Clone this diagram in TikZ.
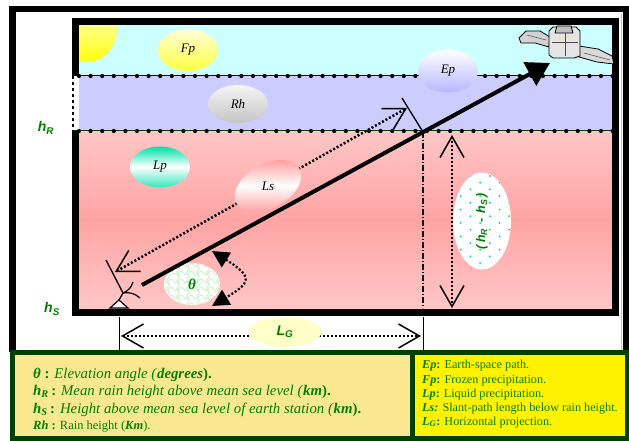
\documentclass[tikz,border=0pt]{standalone}
\usepackage{fontspec}
\setmainfont{Liberation Serif}
\newfontfamily\labelsans{Liberation Sans}
\usetikzlibrary{arrows.meta,shapes.geometric,decorations.pathmorphing}

\definecolor{skyband}{RGB}{204,255,255}
\definecolor{lavband}{RGB}{204,204,255}
\definecolor{rainlight}{RGB}{255,198,198}
\definecolor{raindeep}{RGB}{255,164,164}
\definecolor{legendfill}{RGB}{250,232,145}
\definecolor{legendrule}{RGB}{0,64,0}
\definecolor{labelgreen}{RGB}{0,128,0}
\definecolor{tealdot}{RGB}{0,200,150}
\definecolor{lpteal}{RGB}{0,225,170}
\definecolor{wavegreen}{RGB}{200,240,200}
\definecolor{lgfill}{RGB}{255,255,200}
\definecolor{lsedge}{RGB}{255,150,150}

\tikzset{
  bubble/.style={ellipse, inner sep=0pt, font=\fontsize{13}{15}\selectfont\itshape},
  levelline/.style={line width=1pt},
  leveldots/.style={line width=4.2pt, line cap=round, dash pattern=on 0pt off 11.6pt},
  dimline/.style={line width=2.5pt, dash pattern=on 2pt off 2pt,
    >={Straight Barb[length=21pt,width=24pt,line width=1.5pt]}},
  greenlabel/.style={text=labelgreen, font=\labelsans\fontsize{14}{16}\selectfont\bfseries\itshape},
  legendA/.style={anchor=base west, inner sep=0pt, text=labelgreen, font=\fontsize{14.8}{17}\selectfont},
  legendB/.style={anchor=base west, inner sep=0pt, text=labelgreen, font=\fontsize{12.2}{14}\selectfont},
}

\begin{document}
\begin{tikzpicture}[x=1pt,y=-1pt]
\useasboundingbox (0,0) rectangle (629,441);

% atmosphere layers
\fill[skyband] (79,25) rectangle (612,76);
\fill[lavband] (79,76) rectangle (612,131);
\shade[top color=rainlight, bottom color=rainlight, middle color=raindeep] (79,131) rectangle (612,308);

% sun in the corner
\begin{scope}
  \clip (79,25) rectangle (612,308);
  \shade[top color=yellow!8, bottom color=yellow!95] (88,28) ellipse [x radius=29pt, y radius=34pt];
\end{scope}

% freezing level and rain height level
\draw[levelline] (72,76) -- (615,76);
\draw[leveldots] (79,76) -- (615,76);
\draw[levelline, legendrule] (72,131) -- (615,131);
\draw[leveldots] (79,131) -- (615,131);

% frame of the scene, open on the left between the two levels
\draw[line width=7pt] (75.5,76) -- (75.5,21.5) -- (615,21.5) -- (615,312.5) -- (75.5,312.5) -- (75.5,131);
\draw[line width=1.5pt, dashed] (73,76) -- (73,131);

% outer frame
\draw[line width=6.5pt] (12.5,352) -- (12.5,9) -- (626,9) -- (626,352);
\draw[gray!50, line width=0.8pt] (621,14) -- (621,352);

% key points
\coordinate (stn) at (142,285);
\coordinate (tip) at (550,63);
\coordinate (cross) at (423,132);
\coordinate (crossfoot) at (423,308);
\coordinate (crossbase) at (423,317);
\coordinate (crossend) at (423,350);
\coordinate (stnbase) at (119,317);
\coordinate (stnend) at (119,350);
\coordinate (lsLow) at (115,272);
\coordinate (lsUp) at (407,108);
\coordinate (barUpA) at (402,98);
\coordinate (barUpB) at (423,132);
\coordinate (barLowA) at (106,260);
\coordinate (dish) at (123,293);
\coordinate (lgL) at (121,336);
\coordinate (lgR) at (421,336);
\coordinate (dhTop) at (452,135);
\coordinate (dhBot) at (452,308);

% projection lines
\draw[line width=1.2pt, dash pattern=on 6pt off 2pt on 1pt off 2pt] (cross) -- (crossfoot);
\draw[line width=1pt] (crossbase) -- (crossend);
\draw[line width=1pt] (stnbase) -- (stnend);

% dimension lines
\draw[dimline, <->] (lsLow) -- (lsUp);
\draw[dimline, <->] (lgL) -- (lgR);
\draw[dimline, <->] (dhTop) -- (dhBot);
\draw[line width=1.3pt] (barUpA) -- (barUpB);

% layer bubbles
\node[bubble, minimum width=60pt, minimum height=42pt, top color=yellow!15, bottom color=yellow!75] (fp) at (188,50) {Fp};
\node[bubble, minimum width=60pt, minimum height=38pt, top color=gray!8, bottom color=gray!45] (rh) at (238,104) {Rh};
\node[bubble, minimum width=60pt, minimum height=41pt, top color=lpteal, bottom color=lpteal!80, middle color=white] (lp) at (160,167) {Lp};
\node[bubble, minimum width=60pt, minimum height=43pt, top color=white, bottom color=lavband!90!blue] (ep) at (448,71) {Ep};
\node[bubble, minimum width=72pt, minimum height=44pt, rotate=29, top color=lsedge, bottom color=lsedge, middle color=white] (ls) at (268,186) {\rotatebox{-29}{Ls}};

% elevation-angle bubble
\begin{scope}
  \clip (192,284) ellipse [x radius=28pt, y radius=21pt];
  \fill[white] (160,260) rectangle (225,310);
  \foreach \yy in {265,273,...,305}
    \draw[wavegreen, line width=0.8pt, decorate, decoration={snake, amplitude=2pt, segment length=10pt}] (158,\yy) -- (228,\yy);
  \foreach \xx in {168,178,...,218}
    \draw[wavegreen, line width=0.8pt, decorate, decoration={snake, amplitude=1.5pt, segment length=8pt}] (\xx,258) -- (\xx,312);
\end{scope}
\node[ellipse, minimum width=56pt, minimum height=42pt, inner sep=0pt, text=labelgreen, font=\fontsize{15}{17}\selectfont\bfseries\itshape] (theta) at (192,284) {θ};

% height-difference bubble
\begin{scope}
  \clip (482,221) ellipse [x radius=29pt, y radius=48.5pt];
  \fill[white] (450,170) rectangle (515,272);
  \foreach \r in {0,...,15}
    \foreach \c in {0,...,3} {
      \pgfmathsetmacro\dx{451+19.4*\c+9.7*mod(\r,2)}
      \pgfmathsetmacro\dy{176+6.7*\r}
      \fill[tealdot] (\dx,\dy) circle (1pt);
    }
\end{scope}
\node[ellipse, minimum width=58pt, minimum height=97pt, inner sep=0pt] (dh) at (482,221) {};
\node[greenlabel, rotate=90, font=\labelsans\fontsize{12.5}{14}\selectfont\bfseries\itshape] (dhtext) at (482,221) {(\,h\textsubscript{R}\, -\, h\textsubscript{S}\,)};

% horizontal projection bubble
\node[ellipse, minimum width=73pt, minimum height=30pt, inner sep=0pt, fill=lgfill, greenlabel] (lg) at (285,332) {L\textsubscript{G}};

% earth-space path
\draw[line width=4pt, -{Triangle[length=23pt,width=26pt]}] (stn) -- (tip);

% elevation angle arc
\draw[line width=2.2pt, dash pattern=on 2pt off 2pt, {Triangle[length=17pt,width=17pt]}-{Triangle[length=17pt,width=17pt]}]
  (212,251) .. controls (253.6,277) and (251,282.6) .. (212,306);

% earth station antenna
\draw[line width=1.3pt] (barLowA) -- (dish);
\draw[line width=1.2pt] (dish) to[bend right=25] (133,282);
\draw[line width=1.2pt] (dish) to[bend left=25] (140,298);
\draw[line width=1.2pt] (dish) -- (119,300);
\draw[line width=1.2pt, fill=white] (110,308) -- (128,308) -- (119,300) -- cycle;

% satellite
\begin{scope}[line width=0.8pt, line join=round]
  \filldraw[fill=gray!35] (519,38) -- (526,31) -- (540,31) -- (550,37) -- (549,47) -- (535,43) -- (521,43) -- cycle;
  \draw[gray!60!black, line width=0.5pt] (527,35) -- (546,40);
  \filldraw[fill=gray!30] (579,46) -- (598,49) -- (612,56) -- (614,64) -- (597,62) -- (579,57) -- cycle;
  \draw[gray!60!black, line width=0.5pt] (584,53) -- (610,60);
  \filldraw[fill=gray!20] (549,31) -- (553,27) -- (576,27) -- (580,31) -- (580,56) -- (574,58) -- (553,58) -- (549,55) -- cycle;
  \filldraw[fill=gray!50] (557,26) -- (571,26) -- (573,33) -- (555,33) -- cycle;
  \draw[gray!60!black, line width=0.6pt] (552,42) -- (578,42);
  \draw[gray!60!black, line width=0.6pt] (565,33) -- (565,56);
  \fill[yellow] (560,38) circle (0.9pt) (568,37) circle (0.9pt);
\end{scope}

% height labels
\node[greenlabel] (hR) at (46,128) {h\textsubscript{R}};
\node[greenlabel] (hS) at (52,309) {h\textsubscript{S}};

% legend boxes
\draw[line width=5pt, draw=legendrule, fill=legendfill] (12.5,352.5) rectangle (412.5,438.5);
\draw[line width=5pt, draw=legendrule, fill=yellow] (412.5,352.5) rectangle (627,438.5);

\node[legendA] (k1) at (33,378) {\textbf{\textit{θ}}\textbf{ : }\textit{Elevation angle (}\textbf{\textit{degrees}}\textbf{).}};
\node[legendA] (k2) at (33,395) {\textbf{\textit{h\textsubscript{R}}\,:} \textit{Mean rain height above mean sea level (}\textbf{\textit{km}}\textbf{).}};
\node[legendA] (k3) at (33,413) {\textbf{\textit{h\textsubscript{S}}\,:} \textit{Height above mean sea level of earth station (}\textbf{\textit{km}}\textbf{).}};
\node[legendA, font=\fontsize{12.5}{14}\selectfont] (k4) at (33,429) {\textbf{\textit{Rh}} \textbf{:} Rain height (\textbf{\textit{Km}}).};

\node[legendB] (e1) at (422,368) {\textbf{\textit{Ep}:} Earth-space path.};
\node[legendB] (e2) at (422,383) {\textbf{\textit{Fp}:} Frozen precipitation.};
\node[legendB] (e3) at (422,397) {\textbf{\textit{Lp}:} Liquid precipitation.};
\node[legendB] (e4) at (422,411) {\textbf{\textit{Ls:}} Slant-path length below rain height.};
\node[legendB] (e5) at (422,425) {\textbf{\textit{L\textsubscript{G}}:} Horizontal projection.};

\end{tikzpicture}
\end{document}
